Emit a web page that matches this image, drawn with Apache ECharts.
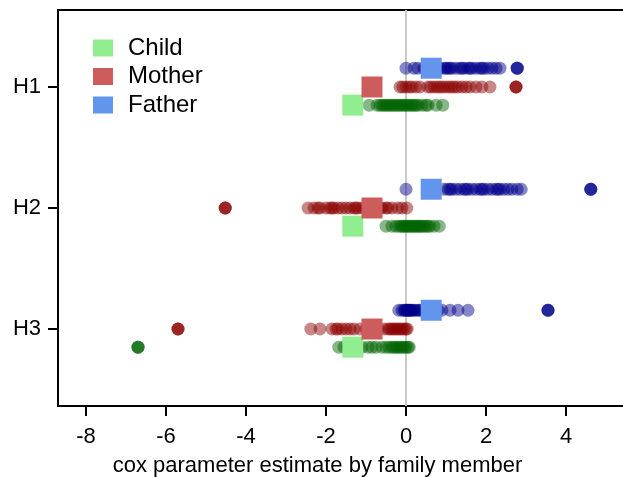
<!DOCTYPE html>
<html>
<head>
<meta charset="utf-8">
<script src="https://cdn.jsdelivr.net/npm/echarts@6/dist/echarts.min.js"></script>
<style>html,body{margin:0;padding:0;background:#fff}#c{width:623px;height:477px}</style>
</head>
<body>
<div id="c"></div>
<script>
const groups = ['H1', 'H2', 'H3'];
const members = ['Child', 'Mother', 'Father'];
const xTicks = [-8, -6, -4, -2, 0, 2, 4];
const xTitle = 'cox parameter estimate by family member';

// per-member point estimates (dots) for each hypothesis
const childH1 = [-0.92, -0.72, -0.65, -0.6, -0.55, -0.5, -0.45, -0.4, -0.35, -0.3, -0.25, -0.2, -0.15, -0.1, -0.05, 0.0, 0.05, 0.1, 0.15, 0.2, 0.25, 0.3, 0.4, 0.5, 0.55, 0.75, 0.92];
const motherH1 = [-0.15, -0.08, 0.0, 0.08, 0.15, 0.25, 0.35, 0.55, 0.62, 0.7, 0.78, 0.85, 0.92, 1.0, 1.08, 1.15, 1.22, 1.3, 1.4, 1.5, 1.6, 1.75, 1.9, 2.1, 2.75, 2.75, 2.75];
const fatherH1 = [0.0, 0.2, 0.3, 0.45, 0.6, 0.75, 0.85, 0.95, 1.0, 1.05, 1.1, 1.15, 1.25, 1.35, 1.4, 1.45, 1.55, 1.6, 1.65, 1.75, 1.85, 1.9, 1.95, 2.05, 2.15, 2.25, 2.35, 2.78, 2.78, 2.78];

const childH2 = [-0.5, -0.35, -0.25, -0.18, -0.12, -0.08, -0.04, 0.0, 0.04, 0.08, 0.12, 0.16, 0.2, 0.24, 0.28, 0.32, 0.36, 0.4, 0.45, 0.5, 0.55, 0.6, 0.7, 0.83];
const motherH2 = [-4.52, -4.52, -4.52, -2.45, -2.3, -2.2, -2.15, -2.0, -1.9, -1.85, -1.8, -1.7, -1.6, -1.5, -1.4, -1.3, -1.25, -1.2, -1.1, -1.0, -0.9, -0.8, -0.65, -0.6, -0.5, -0.45, -0.35, -0.2, -0.1, 0.02];
const fatherH2 = [0.0, 0.95, 1.05, 1.1, 1.15, 1.25, 1.35, 1.45, 1.5, 1.55, 1.65, 1.75, 1.85, 1.9, 1.95, 2.05, 2.15, 2.25, 2.3, 2.35, 2.45, 2.55, 2.65, 2.78, 2.88, 4.62, 4.62, 4.62];

const childH3 = [-6.7, -6.7, -6.7, -1.68, -1.55, -1.45, -1.3, -1.2, -1.1, -0.95, -0.85, -0.75, -0.6, -0.5, -0.42, -0.35, -0.3, -0.25, -0.2, -0.15, -0.1, -0.05, 0.0, 0.05, 0.08];
const motherH3 = [-5.7, -5.7, -5.7, -2.38, -2.15, -1.85, -1.75, -1.7, -1.6, -1.5, -1.4, -1.3, -1.15, -1.0, -0.9, -0.7, -0.55, -0.45, -0.4, -0.35, -0.3, -0.25, -0.2, -0.15, -0.1, -0.05, 0.0, 0.03];
const fatherH3 = [-0.18, -0.1, -0.05, -0.02, 0.0, 0.03, 0.05, 0.08, 0.1, 0.13, 0.15, 0.2, 0.25, 0.3, 0.35, 0.4, 0.5, 0.6, 0.7, 0.8, 0.9, 1.1, 1.3, 1.55, 3.55, 3.55, 3.55];

// summary estimate per member (squares), H1..H3
const childMean = [-1.33, -1.33, -1.33];
const motherMean = [-0.85, -0.85, -0.85];
const fatherMean = [0.63, 0.63, 0.63];

const dots = {
  Child: [childH1, childH2, childH3],
  Mother: [motherH1, motherH2, motherH3],
  Father: [fatherH1, fatherH2, fatherH3]
};
const means = { Child: childMean, Mother: motherMean, Father: fatherMean };
const offset = { Child: 0.15, Mother: 0, Father: -0.155 };
const dotColor = { Child: 'rgba(0,100,0,0.47)', Mother: 'rgba(139,0,0,0.47)', Father: 'rgba(0,0,139,0.47)' };
const meanColor = { Child: '#90EE90', Mother: '#CD5C5C', Father: '#6495ED' };

const FONT = 'Liberation Sans, Arial, sans-serif';
const series = [];
members.forEach(m => {
  const d = [];
  dots[m].forEach((arr, gi) => arr.forEach(v => d.push([v, gi + 1 + offset[m]])));
  series.push({
    name: m + ' estimates', type: 'scatter', symbol: 'circle', symbolSize: 13,
    itemStyle: { color: dotColor[m], opacity: 1 }, data: d, z: 3, silent: true
  });
});
series[0].markLine = {
  silent: true, symbol: 'none', label: { show: false }, z: 1,
  lineStyle: { color: '#c8c8c8', width: 2, type: 'solid' },
  data: [{ xAxis: 0 }]
};
members.forEach(m => {
  series.push({
    name: m, type: 'scatter', symbol: 'rect', symbolSize: 21,
    itemStyle: { color: meanColor[m], opacity: 1 },
    data: means[m].map((v, gi) => [v, gi + 1 + offset[m]]), z: 5, silent: true
  });
});

const chart = echarts.init(document.getElementById('c'), null, { renderer: 'canvas' });
chart.setOption({
  animation: false,
  backgroundColor: '#fff',
  textStyle: { fontFamily: FONT },
  grid: { left: 58, right: 0, top: 10, bottom: 71, containLabel: false, outerBoundsMode: 'none' },
  legend: {
    data: members, orient: 'vertical', left: 88, top: 31, icon: 'rect',
    itemWidth: 20, itemHeight: 17, itemGap: 4.5,
    textStyle: { fontSize: 24, color: '#000', fontFamily: FONT, lineHeight: 24, padding: [0, 0, 0, 10] }
  },
  xAxis: [{
    type: 'value', min: -8.7, max: 5.425, position: 'bottom',
    name: xTitle, nameLocation: 'middle', nameGap: 49,
    nameTextStyle: { fontSize: 22, color: '#000', fontFamily: FONT, padding: [0, 46, 0, 0] },
    axisLine: { show: true, onZero: false, lineStyle: { color: '#000', width: 2 } },
    axisTick: { show: true, length: 10, lineStyle: { color: '#000', width: 2 }, customValues: xTicks },
    axisLabel: { show: true, fontSize: 22, color: '#000', margin: 20, fontFamily: FONT, customValues: xTicks },
    splitLine: { show: false }
  }, {
    type: 'value', min: -8.7, max: 5.425, position: 'top',
    axisLine: { show: true, onZero: false, lineStyle: { color: '#000', width: 2 } },
    axisTick: { show: false }, axisLabel: { show: false }, splitLine: { show: false }
  }],
  yAxis: {
    type: 'value', min: 0.364, max: 3.636, inverse: true,
    axisLine: { show: true, onZero: false, lineStyle: { color: '#000', width: 2 } },
    axisTick: { show: true, length: 10, lineStyle: { color: '#000', width: 2 }, customValues: [1, 2, 3] },
    axisLabel: {
      show: true, fontSize: 22, color: '#000', margin: 17, fontFamily: FONT,
      customValues: [1, 2, 3], formatter: v => groups[Math.round(v) - 1] || ''
    },
    splitLine: { show: false }
  },
  series: series
});
</script>
</body>
</html>
